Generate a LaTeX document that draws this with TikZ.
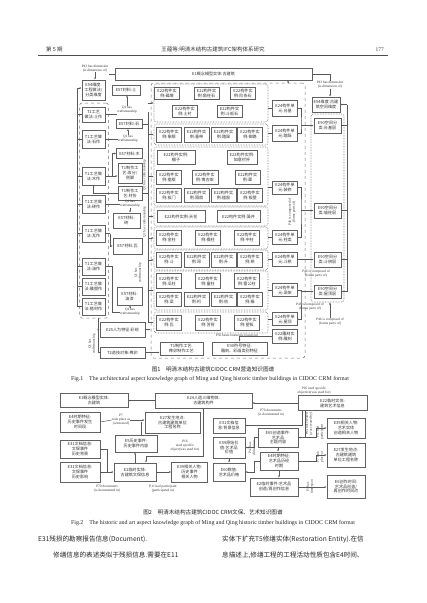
\documentclass[tikz,border=0pt]{standalone}
\usepackage{fontspec}
\setmainfont{Liberation Serif}
\newfontfamily\cjk{Noto Sans CJK SC}
\usetikzlibrary{arrows.meta}
\begin{document}
\begin{tikzpicture}[x=1pt,y=-1pt,
  bx/.style={draw=black!62, line width=0.5pt, fill=white, align=center, inner sep=0.4pt, text=black!80, font=\cjk\fontsize{4.1}{4.9}\selectfont},
  grp/.style={draw=black!55, densely dotted, line width=0.6pt, rounded corners=2.5pt},
  dgrp/.style={draw=black!55, dashed, line width=0.5pt, rounded corners=2.5pt},
  lbl/.style={align=center, inner sep=0.2pt, text=black!80, font=\fontsize{3.5}{3.9}\selectfont},
  ln/.style={draw=black!65, line width=0.5pt},
  ar/.style={ln, -{Latex[length=2.2pt,width=1.8pt]}},
  hdr/.style={inner sep=0pt, text=black!80, font=\cjk\fontsize{5.5}{6}\selectfont},
  zhcap/.style={inner sep=0pt, text=black!85, font=\cjk\fontsize{5.6}{6}\selectfont},
  ecap/.style={inner sep=0pt, text=black!85, font=\fontsize{5.9}{6.5}\selectfont},
  body/.style={inner sep=0pt, anchor=west, text=black!85, font=\cjk\fontsize{6.6}{7}\selectfont},
  wh/.style 2 args={minimum width=#1pt, minimum height=#2pt},
]
\useasboundingbox (0,0) rectangle (427,603);
\fill[white] (0,0) rectangle (427,603);
% ---------------- header
\node[hdr, anchor=west] (h1) at (46,49.5) {第 5 期};
\node[hdr] (h2) at (213,49.5) {王蕴等:明清木结构古建筑IFC架构体系研究};
\node[hdr, anchor=east] (h3) at (384,49.5) {\rmfamily 177};
\draw[black!70, line width=0.5pt] (38,55.5) -- (388,55.5);

% ---------------- figure 1 : enclosures
\node[dgrp, wh={154}{275}] (big) at (228,220.5) {};
\node[dgrp, wh={29}{215}] (gt1) at (94,210.5) {};
\node[grp, wh={33}{188}] (g90) at (327.5,208) {};
\node[grp, wh={114}{38}] (g1) at (211,103) {};
\node[grp, wh={114}{21}] (g2) at (211,134.5) {};
\node[grp, wh={114}{59}] (g3) at (211,176.5) {};
\node[grp, wh={114}{19}] (g4) at (211,216.5) {};
\node[grp, wh={114}{22}] (g5) at (211,238) {};
\node[grp, wh={114}{20}] (g6) at (211,260) {};
\node[grp, wh={114}{39}] (g7) at (211,290.5) {};
\node[grp, wh={114}{21}] (g8) at (211,322.5) {};

% top
\node[bx, wh={197}{12}] (e1) at (213.5,74) {E1概念模型实体:古建筑};
\node[lbl] (p43l) at (95,68.5) {P43 has dimension\\(is dimension of)};
\node[lbl] (p43r) at (330,85) {P43 has dimension\\(is dimension of)};
\node[bx, wh={23}{20}] (le54) at (93.5,90) {E54维度:\\工程做法/\\分类维度};
\node[bx, wh={28}{15}] (re54) at (326,104.5) {E54维度:古建\\筑空间维度};

% left column T1
\node[bx, wh={23}{15}] (t1a) at (93.5,114.5) {T1工艺\\做法:土作};
\node[bx, wh={23}{18}] (t1b) at (93.5,139) {T1工艺做\\法:石作};
\node[bx, wh={23}{18}] (t1c) at (93.5,176) {T1工艺做\\法:木作};
\node[bx, wh={23}{18}] (t1d) at (93.5,204) {T1工艺做\\法:砖作};
\node[bx, wh={23}{17}] (t1e) at (93.5,233.5) {T1工艺做\\法:瓦作};
\node[bx, wh={23}{17}] (t1f) at (93.5,266.5) {T1工艺做\\法:油作};
\node[bx, wh={23}{17}] (t1g) at (93.5,286.5) {T1工艺做\\法:雕塑作};
\node[bx, wh={23}{17}] (t1h) at (93.5,306.5) {T1工艺做\\法:搭材作};

% middle column
\node[bx, wh={28}{10}] (m57a) at (126,90) {E57材料:土};
\node[lbl] (q1a) at (127,110) {Q1 has\\craftsmanship};
\node[bx, wh={26}{9}] (m57b) at (129,124) {E57材料:石};
\node[lbl] (q1b) at (128,139) {Q1 has\\craftsmanship};
\node[bx, wh={26}{10}] (m57c) at (129.5,153.5) {E57材料:木};
\node[bx, wh={24}{20}] (m1a) at (130,173) {T1制作工\\艺:收分/\\侧脚};
\node[bx, wh={24}{14}] (m1b) at (130,193) {T1制作工\\艺:材份};
\node[lbl] (q1c) at (130,204) {Q1 has\\craftsmanship};
\node[bx, wh={27}{15}] (m57d) at (126.5,220.5) {E57材料:\\砖};
\node[bx, wh={29}{16}] (m57e) at (127.5,246) {E57材料:瓦};
\node[bx, wh={25}{18}] (m57f) at (129.5,296) {E57材料:\\油漆};
\node[lbl] (q1d) at (130,312) {Q1 has\\craftsmanship};
\node[bx, wh={45}{15}] (m25) at (122.5,329.5) {E25人为特征:彩绘};
\node[bx, wh={45}{11}] (m2) at (122.5,352.5) {T2造技对象:榫卯};
\node[lbl, rotate=90] (q1e) at (92,344) {Q1 has\\craftsmanship};
\node[lbl, rotate=90] (q1f) at (144.5,175) {Q1 has craftsmanship};
\node[lbl, rotate=90] (q1g) at (144.5,222) {Q1 has craftsmanship};
\node[lbl, rotate=90] (q1h) at (138,273) {Q1 has\\craftsmanship};

% E22 groups
\node[bx, wh={25}{12}] (a1) at (167,93.5) {E22构件实\\例:磉墩};
\node[bx, wh={25}{12}] (a2) at (206.5,93.5) {E22构件实\\例:角柱石};
\node[bx, wh={25}{12}] (a3) at (243,93.5) {E22构件实\\例:阶条石};
\node[bx, wh={25}{12}] (a4) at (185,111.5) {E22构件实\\例:土衬};
\node[bx, wh={25}{12}] (a5) at (229.5,111.5) {E22构件实\\例:斗板石};

\node[bx, wh={25}{15}] (b1) at (169,134.5) {E22构件实\\例:象眼};
\node[bx, wh={25}{15}] (b2) at (196.5,134.5) {E22构件实\\例:垂带};
\node[bx, wh={25}{15}] (b3) at (223.5,134.5) {E22构件实\\例:踏跺};
\node[bx, wh={25}{15}] (b4) at (250,134.5) {E22构件实\\例:御路};

\node[bx, wh={38}{14}] (c1) at (176,157.5) {E22构件实例:\\楣子};
\node[bx, wh={30}{14}] (c2) at (242,157.5) {E22构件实例:\\如意栏杆};
\node[bx, wh={25}{14}] (c3) at (169,177.5) {E22构件实\\例:槛框};
\node[bx, wh={26}{14}] (c4) at (205,177.5) {E22构件实\\例:博古架};
\node[bx, wh={25}{14}] (c5) at (247.5,177.5) {E22构件实\\例:罩};
\node[bx, wh={25}{14}] (c6) at (169,195.5) {E22构件实\\例:板门};
\node[bx, wh={25}{14}] (c7) at (196.5,195.5) {E22构件实\\例:隔扇};
\node[bx, wh={25}{14}] (c8) at (223.5,195.5) {E22构件实\\例:槛窗};
\node[bx, wh={25}{14}] (c9) at (250,195.5) {E22构件实\\例:板壁};

\node[bx, wh={48}{12}] (d1) at (181,216.5) {E22构件实例:天花};
\node[bx, wh={43}{12}] (d2) at (238.5,216.5) {E22构件实例:藻井};

\node[bx, wh={25}{15}] (k1) at (169,237.5) {E22构件实\\例:金柱};
\node[bx, wh={25}{15}] (k2) at (208,237.5) {E22构件实\\例:檐柱};
\node[bx, wh={25}{15}] (k3) at (247,237.5) {E22构件实\\例:中柱};

\node[bx, wh={25}{15}] (s1) at (169,259.5) {E22构件实\\例:斗};
\node[bx, wh={25}{15}] (s2) at (196.5,259.5) {E22构件实\\例:昂};
\node[bx, wh={25}{15}] (s3) at (223.5,259.5) {E22构件实\\例:升};
\node[bx, wh={25}{15}] (s4) at (250,259.5) {E22构件实\\例:栱};

\node[bx, wh={25}{15}] (r1) at (169,281) {E22构件实\\例:瓜柱};
\node[bx, wh={25}{15}] (r2) at (208,281) {E22构件实\\例:童柱};
\node[bx, wh={25}{15}] (r3) at (247,281) {E22构件实\\例:雷公柱};
\node[bx, wh={25}{14}] (r4) at (169,299.5) {E22构件实\\例:梁};
\node[bx, wh={25}{14}] (r5) at (196.5,299.5) {E22构件实\\例:桁};
\node[bx, wh={25}{14}] (r6) at (223.5,299.5) {E22构件实\\例:枋};
\node[bx, wh={25}{14}] (r7) at (250,299.5) {E22构件实\\例:椽};

\node[bx, wh={25}{15}] (w1) at (169,322.5) {E22构件实\\例:瓦};
\node[bx, wh={25}{15}] (w2) at (208,322.5) {E22构件实\\例:苫背};
\node[bx, wh={25}{15}] (w3) at (247,322.5) {E22构件实\\例:望板};

\node[lbl] (p56) at (237,335.5) {P56 bears feature(is found on)};
\node[bx, wh={43}{13}] (bt1) at (181.5,348.5) {T1制作工艺:\\榫卯制作工艺};
\node[bx, wh={55}{13}] (b90) at (239.5,348.5) {E90符号特征:\\雕刻、彩画类别特征};

% E24 column
\node[bx, wh={25}{16}] (e24a) at (285,108) {E24构件单\\元:台基};
\node[bx, wh={25}{16}] (e24b) at (285,133) {E24构件单\\元:踏跺};
\node[bx, wh={25}{13}] (e24c) at (285,187.5) {E24构件单\\元:装修};
\node[bx, wh={25}{14}] (e24d) at (285,237) {E24构件单\\元:柱类};
\node[bx, wh={25}{14}] (e24e) at (285,259.5) {E24构件单\\元:斗栱};
\node[bx, wh={25}{13}] (e24f) at (285,290) {E24构件单\\元:梁架};
\node[bx, wh={25}{13}] (e24g) at (285,319) {E24构件单\\元:屋顶};
\node[bx, wh={25}{14}] (e22s) at (285,336) {E22雕刻实\\例:雕刻};

% E90 column
\node[bx, wh={27}{15}] (e90a) at (327.5,125.5) {E90空间分\\类:台基层};
\node[bx, wh={27}{15}] (e90b) at (327.5,210.5) {E90空间分\\类:墙柱层};
\node[bx, wh={27}{15}] (e90c) at (327.5,259.5) {E90空间分\\类:斗栱层};
\node[bx, wh={27}{13}] (e90d) at (327.5,291.5) {E90空间分\\类:屋顶层};

\node[lbl, rotate=90] (p46a) at (292,212) {P46 is composed of\\(forms parts of)};
\node[lbl] (p46b) at (316,273.5) {P46 is composed of\\(forms parts of)};
\node[lbl] (p46c) at (310,306.5) {P46 is composed of\\(forms parts of)};
\node[lbl] (p46d) at (330,321.5) {P46 is composed of\\(forms parts of)};

% connectors fig 1
\draw[ln] (e1.west) -- (e1.west -| p43l.east);
\draw[ar] (p43l.south) -- (p43l.south |- le54.north);
\draw[ln] (e1.east) -| (p43r.north);
\draw[ar] (p43r.south) -- (p43r.south |- re54.north);
\coordinate (upA) at (288,83);
\draw[ar] (upA) -- (upA |- e1.south);

\coordinate (lv) at (77,88);
\coordinate (lvb) at (77,306.5);
\draw[ar] (lv) -- (le54.west |- lv);
\draw[ln] (lv) -- (lvb) -- (t1h.west);
\foreach \n in {t1a,t1b,t1c,t1d,t1e,t1f,t1g} \draw[ln] (lv |- \n.west) -- (\n.west);

\draw[ar] (q1a.north) -- (q1a.north |- m57a.south);
\draw[ln] (t1a.east) -- (t1a.east -| q1a.west);
\draw[ar] (q1b.north) -- (q1b.north |- m57b.south);
\draw[ln] (t1b.east) -- (t1b.east -| q1b.west);
\coordinate (jc) at (112,176);
\draw[ln] (t1c.east) -- (jc);
\draw[ar] (jc) |- (m57c.west);
\draw[ar] (jc) -- (jc -| m1a.west);
\draw[ar] (m1b.west) -| (t1c.south);
\draw[ln] (t1d.east) -- (t1d.east -| q1c.west);
\draw[ar] (q1c.south) -- (q1c.south |- m57d.north);
\coordinate (je) at (110,233.5);
\draw[ln] (t1e.east) -- (je);
\draw[ar] (je) |- (m57e.west);
\coordinate (jf) at (112,266.5);
\draw[ln] (t1f.east) -- (jf) |- (q1d.west);
\draw[ar] (q1d.north) -- (q1d.north |- m57f.south);
\coordinate (j25) at (98,318);
\draw[ln] (j25) -- (j25 |- m2.west) -- (m2.west);
\draw[ar] (j25 |- m25.west) -- (m25.west);
\draw[ar] (m25.east) -- (m25.east -| big.west);
\draw[ar] (m2.east) -- (m2.east -| bt1.west);

\coordinate (vq) at (148,112);
\coordinate (vqb) at (148,322.5);
\draw[ln] (vq) -- (vqb);
\foreach \g in {g1,g2,g3,g4,g5,g6,g7,g8} \draw[ar] (vq |- \g.west) -- (\g.west);
\draw[ln] (m57b.east) -- (m57b.east -| vq);
\draw[ln] (m1b.east) -- (m1b.east -| vq);

\draw[ln] (g1.east |- e24a.west) -- (e24a.west);
\draw[ln] (g2.east |- e24b.west) -- (e24b.west);
\draw[ln] (g3.east |- e24c.west) -- (e24c.west);
\draw[ln] (g5.east |- e24d.west) -- (e24d.west);
\draw[ln] (g6.east |- e24e.west) -- (e24e.west);
\draw[ln] (g7.east |- e24f.west) -- (e24f.west);
\draw[ln] (g8.east |- e24g.west) -- (e24g.west);

\coordinate (ba) at (301,125.5);
\draw[ln] (e24a.east) -| (ba) |- (e24b.east);
\draw[ar] (ba) -- (e90a.west);
\coordinate (bb) at (301,210.5);
\draw[ln] (e24c.east) -| (bb) |- (e24d.east);
\draw[ar] (bb) -- (e90b.west);
\draw[ar] (e24e.east) -- (e90c.west);
\coordinate (bc) at (301,291.5);
\draw[ln] (e24f.east) -| (bc) |- (e24g.east);
\draw[ar] (bc) -- (e90d.west);

\coordinate (rv) at (347,104.5);
\draw[ar] (rv) -- (re54.east);
\draw[ln] (rv) |- (e90d.east);
\foreach \n in {e90a,e90b,e90c} \draw[ln] (\n.east) -- (\n.east -| rv);
\draw[ar] (p46d.north) -- (p46d.north |- g90.south);
\draw[ar] (e22s.west) -| (b90.north);

% captions fig 1
\node[zhcap] (c1zh) at (213,369.5) {图1\quad 明清木结构古建筑CIDOC CRM营造知识图谱};
\node[ecap] (c1en) at (210,379.5) {Fig.1\quad The architectural aspect knowledge graph of Ming and Qing historic timber buildings in CIDOC CRM format};

% ---------------- figure 2
\node[bx, wh={68}{14}] (f1) at (94,400) {E1概念模型实体:\\古建筑};
\node[bx, wh={97}{15}] (f24) at (203.5,400.5) {E24人造三维物体:\\古建筑构件};
\node[bx, wh={69}{15}] (f22) at (332.5,403) {E22临时实体:\\建筑艺术信息};
\node[lbl] (fp16) at (314,390.5) {P16 used specific\\objective(was used for)};
\node[lbl] (fp70) at (271,413) {P70 documents\\(is documented in)};

\node[bx, wh={40}{20}] (f4a) at (80,422) {E4时期特征:\\历史事件发生\\时间段};
\node[lbl] (fp7) at (121,420) {P7\\took place at\\(witnessed)};
\node[bx, wh={55}{21}] (f27a) at (172.5,422.5) {E27发生地点:\\古建筑建筑单位\\工程名称};
\node[bx, wh={32}{15}] (f31a) at (229,425.5) {E31文档信\\息:背景信息};
\node[bx, wh={40}{19}] (f65) at (278,437.5) {E65创造事件:\\艺术品\\主题内容};
\node[bx, wh={38}{20}] (f39b) at (346,428) {E39相关人物:\\艺术实体\\创造相关人物};

\node[bx, wh={40}{18}] (f31b) at (80,449) {E31文档信息:\\文保事件\\历史背景};
\node[bx, wh={42}{17}] (f5) at (136,443.5) {E5历史事件:\\历史事件内容};
\node[lbl] (fp16b) at (185,446) {P16\\used specific\\object(was used for)};
\node[bx, wh={32}{21}] (f59) at (229,447.5) {E59原始价\\值:艺术品\\价值};
\node[bx, wh={38}{18}] (f4b) at (279,461) {E4时期特征:\\艺术品历经\\时期};
\node[bx, wh={38}{24}] (f27b) at (346,455) {E27发生地点:\\古建筑建筑\\单位工程名称};

\node[bx, wh={40}{20}] (f31c) at (80,472) {E31文档信息:\\文保事件\\历史影响};
\node[bx, wh={42}{18}] (f2a) at (135,472) {E2临时实体:\\古建筑文保信息};
\node[bx, wh={36}{20}] (f39a) at (189.5,472) {E39相关人物:\\历史事件\\相关人物};
\node[bx, wh={32}{18}] (f60) at (229,472) {E60数值:\\艺术品价格};
\node[bx, wh={48}{18}] (f2b) at (274,487) {E2临时事件:艺术品\\创造/再创作信息};
\node[bx, wh={38}{23}] (f6) at (346,486.5) {E6创作时间:\\艺术品创造/\\再创作时间点};
\node[lbl] (fp70b) at (107,489) {P70 documents\\(is documented in)};
\node[lbl] (fp11) at (163,489) {P11 had participant\\(participated in)};

\node[lbl, rotate=90] (fv1) at (252,448) {P43 has\\dimension};
\node[lbl, rotate=90] (fv2) at (309,424) {P94 has created\\(was created by)};
\node[lbl, rotate=90] (fv3) at (320,432) {P11 had\\participant};
\node[lbl, rotate=90] (fv4) at (320,457) {P7 took\\place at};
\node[lbl, rotate=90] (fv5) at (310,487) {P4 has\\time-span};

% connectors fig 2
\draw[ar] (f24.west) -- (f24.west -| f1.east);
\draw[ar] (f22.west) -- (f22.west -| f24.east);
\coordinate (c70) at (302,425.5);
\draw[ar] (f22.south -| c70) -- (c70) -- (f31a.east);
\coordinate (c65) at (305,437.5);
\draw[ar] (f22.south -| c65) -- (c65) -- (f65.east);
\coordinate (c39) at (316,437.5);
\draw[ar] (f65.east) -- (c39) |- (f39b.west);
\coordinate (c27) at (316,461);
\draw[ar] (f4b.east) -- (c27) |- (f27b.west);
\draw[ar] (f2b.east) -- (f2b.east -| f6.west);
\draw[ar] (f65.south) -- (f65.south |- f4b.north);
\draw[ar] (f4b.south) -- (f4b.south |- f2b.north);
\coordinate (c60) at (254,461);
\draw[ar] (f4b.west) -- (c60) |- (f60.east);
\draw[ar] (f59.south) -- (f60.north);
\coordinate (c59) at (254,437.5);
\draw[ar] (f65.west) -- (c59) |- (f59.east);

\draw[ln] (f4a.east) -- (fp7.west);
\draw[ar] (fp7.east) -- (fp7.east -| f27a.west);
\coordinate (c5) at (141,422);
\draw[ln] (f5.north -| c5) -- (c5);
\draw[ar] (f2a.north) -- (f2a.north |- f5.south);
\draw[ar] (f2a.east) -- (f2a.east -| f39a.west);
\coordinate (c31) at (107,472);
\draw[ln] (f31b.east) -| (c31);
\draw[ar] (f31c.east) -- (f2a.west);
\coordinate (c16a) at (203,456);
\coordinate (c16b) at (146,456);
\draw[ln] (f24.south -| c16a) -- (c16a) -- (c16b);
\draw[ar] (c16b) -- (c16b |- f2a.north);

% captions fig 2
\node[zhcap] (c2zh) at (213,512) {图2\quad 明清木结构古建筑CIDOC CRM文保、艺术知识图谱};
\node[ecap] (c2en) at (213,523) {Fig.2\quad The historic and art aspect knowledge graph of Ming and Qing historic timber buildings in CIDOC CRM format};

% body text
\node[body] (t1) at (38,539) {E31残损的勘察报告信息(Document).};
\node[body] (t2) at (222,539) {实体下扩充T5修缮实体(Restoration Entity).在信};
\node[body] (t3) at (53,555) {修缮信息的表述类似于残损信息.需要在E11};
\node[body] (t4) at (222,555) {息描述上,修缮工程的工程活动性质包含E4时间、};
\end{tikzpicture}
\end{document}
